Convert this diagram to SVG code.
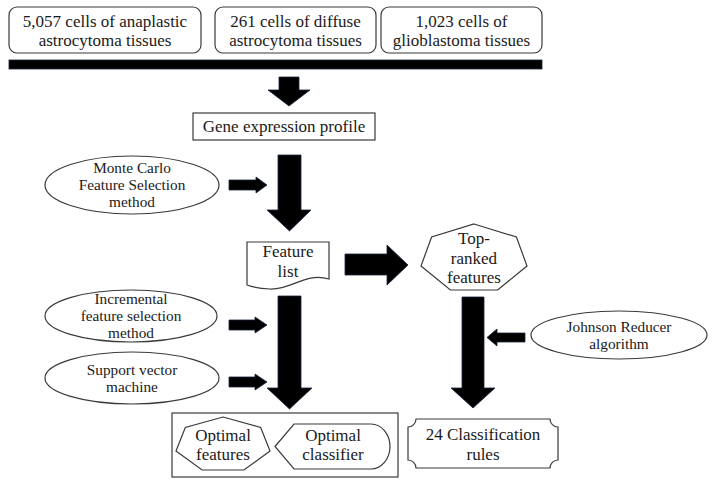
<svg xmlns="http://www.w3.org/2000/svg" width="714" height="480" viewBox="0 0 714 480">
<style>
.box{fill:#fff;stroke:#3a3a3a;stroke-width:1.2}
.t{font-family:"Liberation Serif","Times New Roman",serif;font-size:17px;fill:#1a1a1a;text-anchor:middle}
.s{font-size:15.3px}
.arr{fill:#000;stroke:#17243f;stroke-width:0.8}
</style>
<rect width="714" height="480" fill="#fff"/>
<g id="src1">
<rect class="box" x="9" y="7" width="192" height="46" rx="8"/>
<text class="t" x="105" y="26.5">5,057 cells of anaplastic</text>
<text class="t" x="105" y="46">astrocytoma tissues</text>
</g>
<g id="src2">
<rect class="box" x="215" y="7" width="161" height="46" rx="8"/>
<text class="t" x="295.5" y="26.5">261 cells of diffuse</text>
<text class="t" x="295.5" y="46">astrocytoma tissues</text>
</g>
<g id="src3">
<rect class="box" x="381" y="7" width="161" height="46" rx="8"/>
<text class="t" x="461.5" y="26.5">1,023 cells of</text>
<text class="t" x="461.5" y="46">glioblastoma tissues</text>
</g>
<g id="gene">
<rect class="box" x="193" y="113" width="182" height="27"/>
<text class="t" x="284" y="132">Gene expression profile</text>
</g>
<g id="mcfs">
<ellipse class="box" cx="132" cy="185" rx="87" ry="29"/>
<text class="t s" x="132" y="173">Monte Carlo</text>
<text class="t s" x="132" y="190">Feature Selection</text>
<text class="t s" x="132" y="207">method</text>
</g>
<g id="featlist">
<path class="box" d="M247,242 H329 V279 C305,272 292,290 270,289 C258,288.5 251,286.5 247,285 Z"/>
<text class="t" x="288" y="257">Feature</text>
<text class="t" x="288" y="277">list</text>
</g>
<g id="toprank">
<polygon class="box" points="474,224 516.4,237 527,266 497.6,290 450.4,290 421,266 431.6,237"/>
<text class="t" x="474" y="244">Top-</text>
<text class="t" x="474" y="263.5">ranked</text>
<text class="t" x="474" y="283">features</text>
</g>
<g id="ifs">
<ellipse class="box" cx="131" cy="316" rx="86" ry="26"/>
<text class="t s" x="131" y="304">Incremental</text>
<text class="t s" x="131" y="321">feature selection</text>
<text class="t s" x="131" y="338">method</text>
</g>
<g id="svm">
<ellipse class="box" cx="132" cy="378" rx="87" ry="26"/>
<text class="t s" x="132" y="374.5">Support vector</text>
<text class="t s" x="132" y="391.5">machine</text>
</g>
<g id="jr">
<ellipse class="box" cx="619" cy="335" rx="88" ry="24"/>
<text class="t s" x="619" y="331.5">Johnson Reducer</text>
<text class="t s" x="619" y="348.5">algorithm</text>
</g>
<g id="result">
<rect class="box" x="172" y="413" width="226" height="64"/>
<g id="optfeat">
<polygon class="box" points="223,417 260.7,427.5 270,451 243.9,470 202.1,470 176,451 185.3,427.5"/>
<text class="t" x="223" y="441">Optimal</text>
<text class="t" x="223" y="460">features</text>
</g>
<g id="optclf">
<path class="box" d="M275,446.5 L294,424 H371 A19,22.5 0 0 1 371,469 H294 Z"/>
<text class="t" x="333" y="441">Optimal</text>
<text class="t" x="333" y="460">classifier</text>
</g>
</g>
<g id="rules">
<path class="box" d="M408,427 A8,8 0 0 0 416,419 H550 A8,8 0 0 0 558,427 V460 A8,8 0 0 0 550,468 H416 A8,8 0 0 0 408,460 Z"/>
<text class="t" x="483" y="440">24 Classification</text>
<text class="t" x="483" y="459.5">rules</text>
</g>
<g id="connectors">
<rect class="arr" x="9" y="60" width="533" height="9"/>
<polygon class="arr" points="279,77 299,77 299,90 310,90 289,106 268,90 279,90"/>
<polygon class="arr" points="278,155 301,155 301,210 311,210 289.5,231 267,210 278,210"/>
<polygon class="arr" points="229,180 256,180 256,177 267,185 256,193 256,190 229,190"/>
<polygon class="arr" points="345,254 387,254 387,245 408,265 387,285 387,275 345,275"/>
<polygon class="arr" points="278,296 301,296 301,388 312,388 289.5,409 267,388 278,388"/>
<polygon class="arr" points="229,320 255,320 255,317 267,325 255,333 255,330 229,330"/>
<polygon class="arr" points="229,377 255,377 255,374 267,382 255,390 255,387 229,387"/>
<polygon class="arr" points="462,297 484,297 484,388 495,388 473,408 451,388 462,388"/>
<polygon class="arr" points="525,333 497,333 497,329 487,337.5 497,346 497,342 525,342"/>
</g>
</svg>
